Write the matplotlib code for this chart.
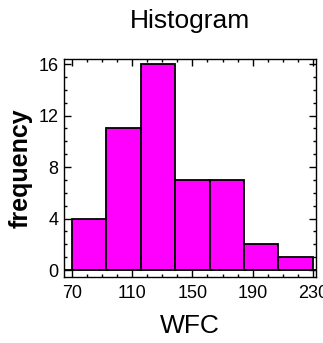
import numpy as np
import matplotlib.pyplot as plt
from matplotlib.ticker import MultipleLocator

plt.rcParams['font.family'] = ['Liberation Sans', 'DejaVu Sans']

# histogram of WFC: 7 classes between 70 and 230
bin_lo = 70
bin_hi = 230
n_bins = 7
counts = [4, 11, 16, 7, 7, 2, 1]
x_ticks = [70, 110, 150, 190, 230]
y_ticks = [0, 4, 8, 12, 16]

edges = np.linspace(bin_lo, bin_hi, n_bins + 1)

fig = plt.figure(figsize=(3.23, 3.43), dpi=100)
ax = fig.add_axes([0.198, 0.192, 0.78, 0.636])

ax.bar(edges[:-1], counts, width=np.diff(edges), align='edge',
       color='#ff00ff', edgecolor='black', linewidth=1.3)
ax.axhline(0, color='black', linewidth=1.3)

ax.set_xlim(64.7, 232)
ax.set_ylim(-0.55, 16.4)
ax.set_xticks(x_ticks)
ax.set_yticks(y_ticks)
ax.xaxis.set_minor_locator(MultipleLocator(10))
ax.yaxis.set_minor_locator(MultipleLocator(1))
ax.tick_params(which='both', direction='in', top=True, right=True,
               labelsize=13, width=1)
ax.tick_params(axis='x', pad=6)
ax.tick_params(axis='y', pad=4)
ax.tick_params(which='major', length=5)
ax.tick_params(which='minor', length=2.5)
for s in ax.spines.values():
    s.set_linewidth(1)

ax.set_title('Histogram', fontsize=19, pad=22)
ax.set_xlabel('WFC', fontsize=19, labelpad=8)
ax.set_ylabel('frequency', fontsize=18, fontweight='bold', labelpad=4)

fig.savefig('out.png', dpi=100)
